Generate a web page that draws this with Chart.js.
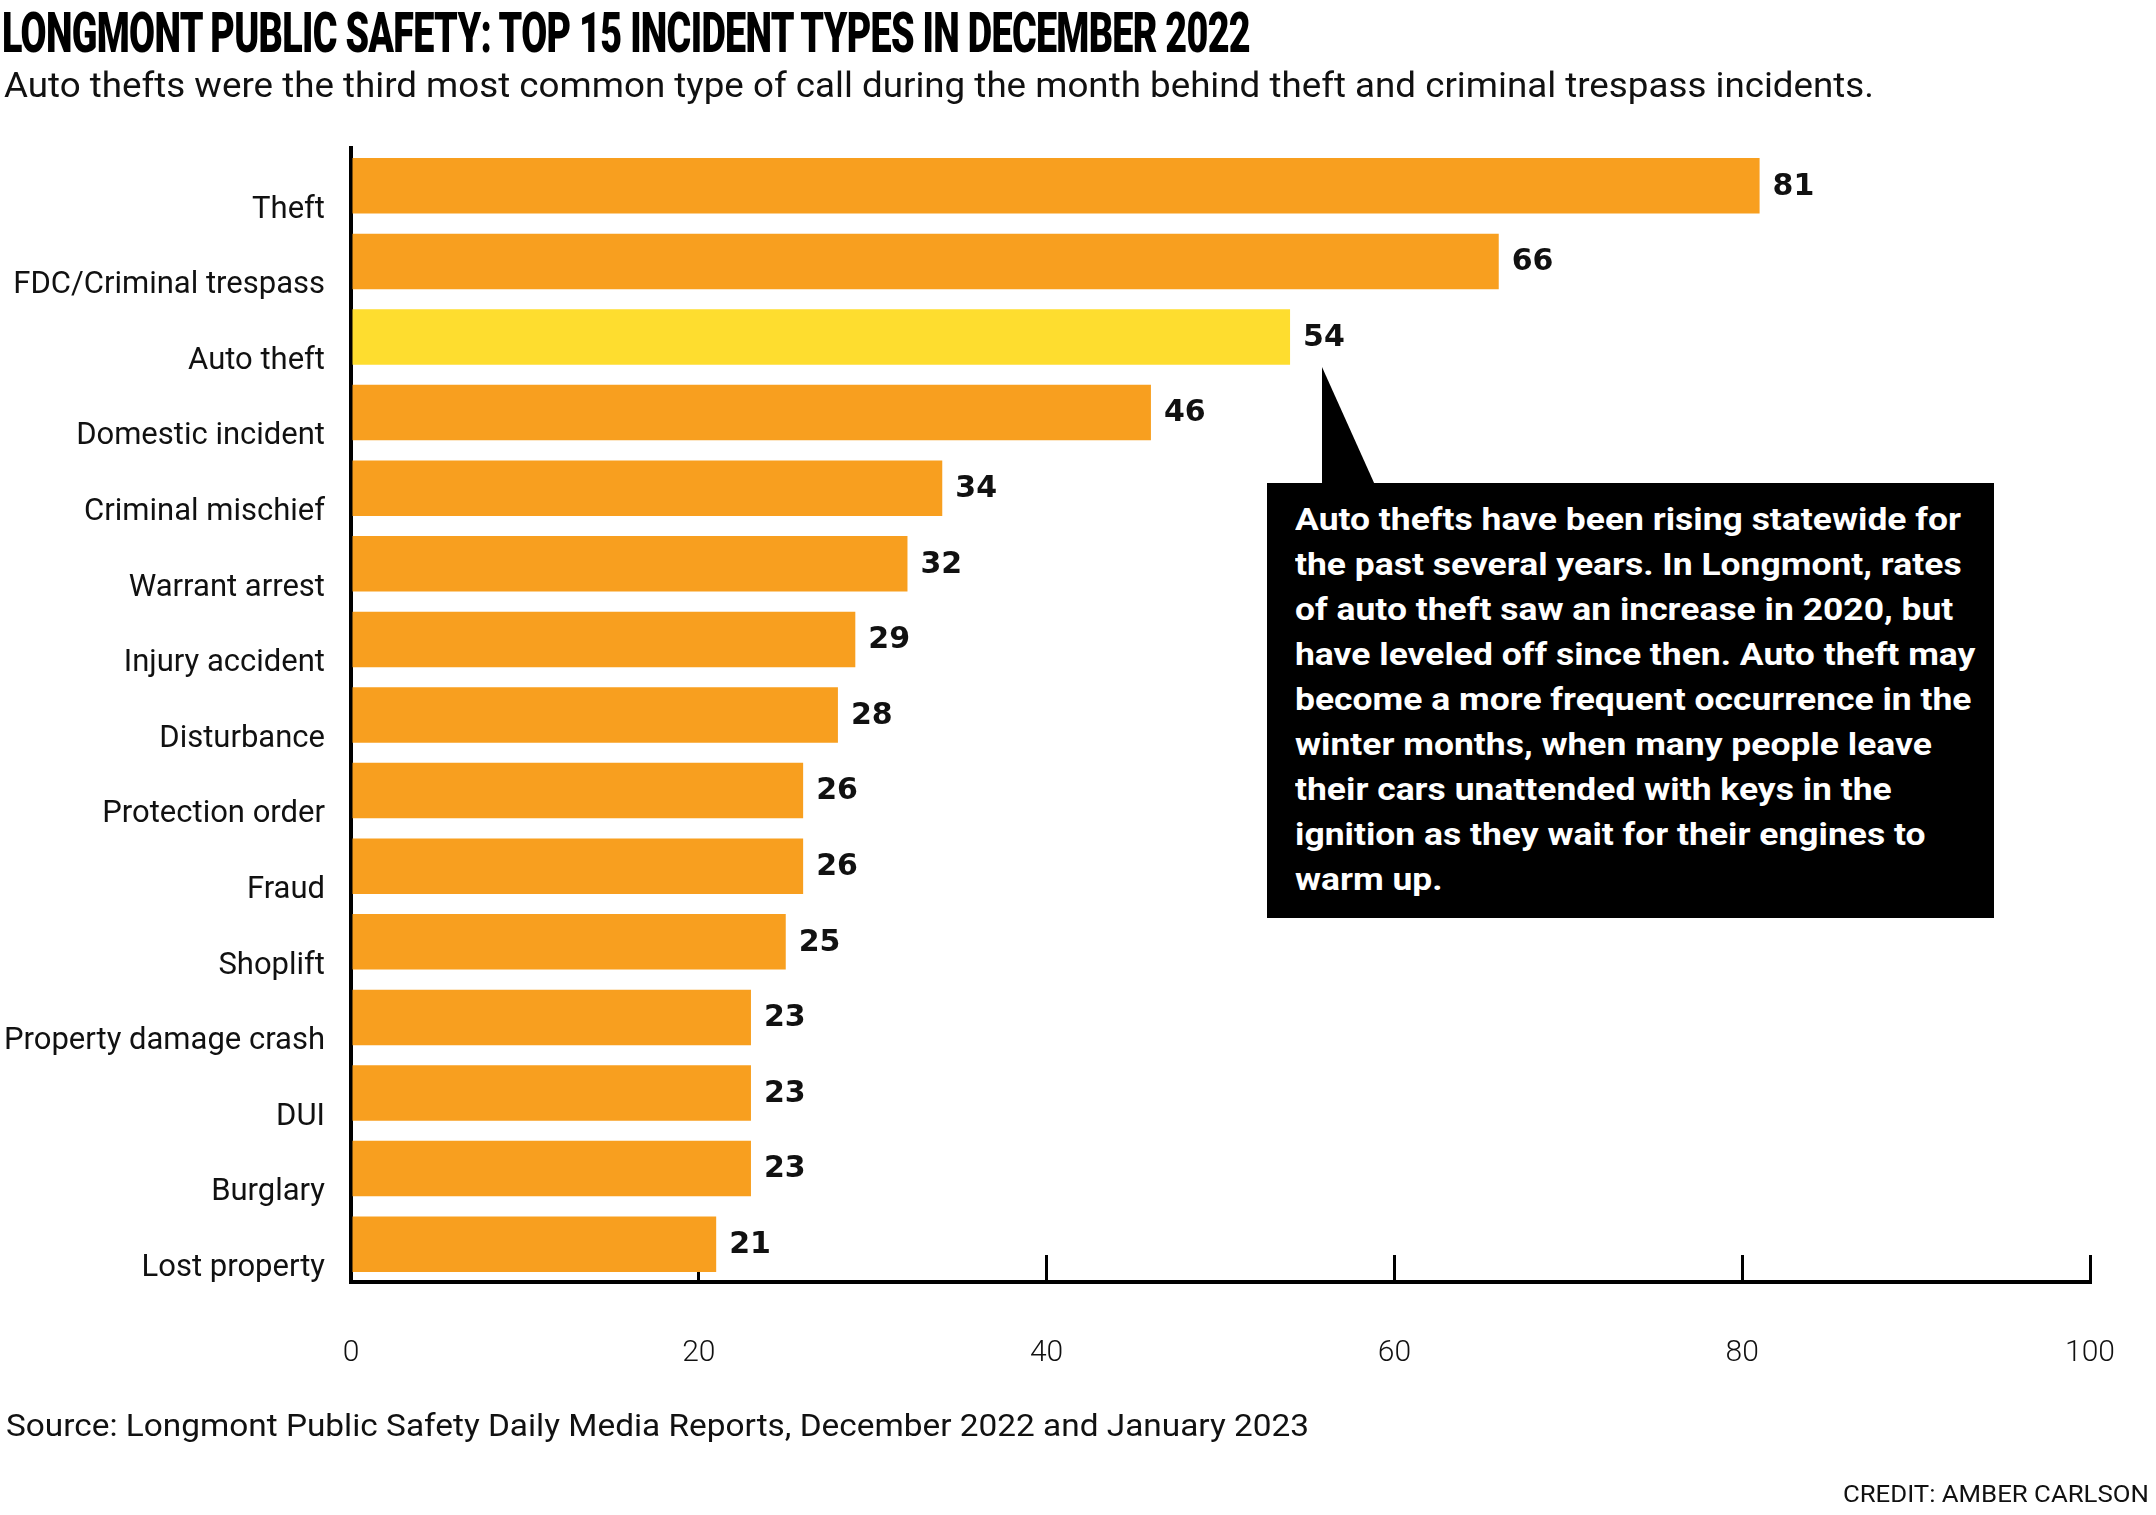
<!DOCTYPE html>
<html>
<head>
<meta charset="utf-8">
<script src="https://cdn.jsdelivr.net/npm/chart.js@4.4.0/dist/chart.umd.min.js"></script>
<style>
  html, body { margin: 0; padding: 0; background: #fff; }
  body { width: 2156px; height: 1515px; position: relative; overflow: hidden; font-family: Roboto, "Noto Sans", sans-serif; color: #111; }
  #c { position: absolute; left: 0; top: 0; }
  .txt { position: absolute; white-space: nowrap; line-height: 1; transform-origin: 0 0; }
  #title { left: 2px; top: 6px; font-size: 55px; font-weight: 900; color: #000; letter-spacing: -1px; }
  #subtitle { left: 4px; top: 68px; font-size: 35px; font-weight: 400; }
  #source { left: 6px; top: 1409px; font-size: 32px; font-weight: 400; }
  #credit { top: 1482px; font-size: 24px; font-weight: 400; transform-origin: 100% 0; right: 7px; }
  #pointer { position: absolute; left: 1322px; top: 367px; width: 53px; height: 118px; background: #000; clip-path: polygon(0 0, 0 100%, 100% 100%); }
  #box { position: absolute; left: 1267px; top: 483px; width: 727px; height: 435px; background: #000; }
  #boxtext { position: absolute; left: 28px; top: 14px; color: #fff; font-weight: 700; font-size: 31px; line-height: 45px; white-space: nowrap; transform-origin: 0 0; }
</style>
</head>
<body>
<canvas id="c" width="2156" height="1515" style="width:2156px;height:1515px"></canvas>
<div id="title" class="txt">LONGMONT PUBLIC SAFETY: TOP 15 INCIDENT TYPES IN DECEMBER 2022</div>
<div id="subtitle" class="txt">Auto thefts were the third most common type of call during the month behind theft and criminal trespass incidents.</div>
<div id="pointer"></div>
<div id="box"><div id="boxtext"></div></div>
<div id="source" class="txt">Source: Longmont Public Safety Daily Media Reports, December 2022 and January 2023</div>
<div id="credit" class="txt">CREDIT: AMBER CARLSON</div>
<script>
// ---- data ----
const categories = ["Theft", "FDC/Criminal trespass", "Auto theft", "Domestic incident", "Criminal mischief",
  "Warrant arrest", "Injury accident", "Disturbance", "Protection order", "Fraud", "Shoplift",
  "Property damage crash", "DUI", "Burglary", "Lost property"];
const incidents = [81, 66, 54, 46, 34, 32, 29, 28, 26, 26, 25, 23, 23, 23, 21];
const highlighted = ["Auto theft"];
const xTicks = [0, 20, 40, 60, 80, 100];
const noteLines = [
  "Auto thefts have been rising statewide for",
  "the past several years. In Longmont, rates",
  "of auto theft saw an increase in 2020, but",
  "have leveled off since then. Auto theft may",
  "become a more frequent occurrence in the",
  "winter months, when many people leave",
  "their cars unattended with keys in the",
  "ignition as they wait for their engines to",
  "warm up."
];

const ORANGE = "#F89F1F";
const YELLOW = "#FEDD2F";

// annotation text
const bt = document.getElementById("boxtext");
noteLines.forEach(l => { const d = document.createElement("div"); d.textContent = l; bt.appendChild(d); });

function fitWidth(id, target) {
  const el = document.getElementById(id);
  el.style.transform = "none";
  const w = el.getBoundingClientRect().width;
  el.style.transform = "scaleX(" + (target / w) + ")";
}
function fitAll() {
  fitWidth("title", 1248);
  fitWidth("subtitle", 1870);
  fitWidth("source", 1303);
  fitWidth("credit", 306);
  const first = bt.firstChild;
  bt.style.transform = "none";
  const r = document.createRange(); r.selectNodeContents(first);
  const w = r.getBoundingClientRect().width;
  bt.style.transform = "scaleX(" + (666 / w) + ")";
}

const valueLabels = {
  id: "valueLabels",
  afterDatasetsDraw(chart) {
    const ctx = chart.ctx;
    const meta = chart.getDatasetMeta(0);
    ctx.save();
    ctx.font = "bold 30px 'DejaVu Sans', sans-serif";
    ctx.fillStyle = "#111";
    ctx.textAlign = "left";
    ctx.textBaseline = "middle";
    meta.data.forEach((bar, i) => {
      ctx.fillText(String(incidents[i]), bar.x + 13, bar.y + 1);
    });
    ctx.restore();
  }
};

new Chart(document.getElementById("c"), {
  type: "bar",
  data: {
    labels: categories,
    datasets: [{
      data: incidents,
      backgroundColor: categories.map(c => highlighted.includes(c) ? YELLOW : ORANGE),
      borderWidth: 0,
      categoryPercentage: 0.734,
      barPercentage: 1.0
    }]
  },
  options: {
    indexAxis: "y",
    responsive: false,
    maintainAspectRatio: false,
    animation: false,
    devicePixelRatio: 1,
    layout: { padding: { top: 148, left: 0, right: 66, bottom: 133 } },
    plugins: { legend: { display: false }, tooltip: { enabled: false }, title: { display: false } },
    scales: {
      x: {
        type: "linear",
        min: xTicks[0],
        max: xTicks[xTicks.length - 1],
        afterBuildTicks(scale) { scale.ticks = xTicks.map(v => ({ value: v })); },
        afterFit(scale) { scale.height = 100; scale.paddingLeft = 0; scale.paddingRight = 0; },
        grid: { display: true, drawOnChartArea: false, drawTicks: true, tickLength: -27, color: "#000", lineWidth: 3 },
        border: { display: true, color: "#000", width: 4 },
        ticks: { padding: 80, color: "#111", font: { family: "Roboto", size: 30, weight: 300 }, maxRotation: 0 }
      },
      y: {
        type: "category",
        afterFit(scale) { scale.width = 351; },
        grid: { display: false, drawTicks: false },
        border: { display: true, color: "#000", width: 4 },
        ticks: { padding: 26, labelOffset: 24, color: "#111", font: { family: "Roboto", size: 31, weight: 400 }, autoSkip: false }
      }
    }
  },
  plugins: [valueLabels]
});

fitAll();
if (document.fonts && document.fonts.ready) document.fonts.ready.then(fitAll);
</script>
</body>
</html>
